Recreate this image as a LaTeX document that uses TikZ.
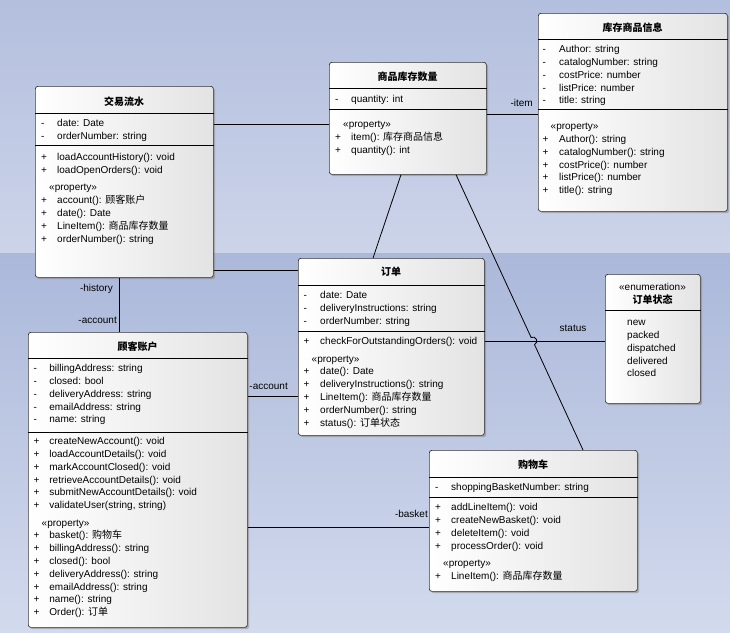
\documentclass[tikz,border=0pt]{standalone}
\usepackage{fontspec}
\setmainfont{Liberation Sans}
\newfontfamily\cjk{Noto Sans CJK SC}
\usetikzlibrary{shadows,calc}
\definecolor{bgtopA}{HTML}{B3BFDE}
\definecolor{bgtopB}{HTML}{CCD4E9}
\definecolor{bgbotA}{HTML}{ABB8DA}
\definecolor{bgbotB}{HTML}{D2DAED}
\newcommand\prop{\multicolumn{2}{@{\hspace{8pt}}l@{}}{«property»}}
\newcommand\compsep[2]{\draw[sepline] ($(#1.north west)+(0,#2)$) -- ($(#1.north east)+(0,#2)$);}
\tikzset{
  classbox/.style={draw=black!80, line width=0.7pt, rounded corners=2.5pt,
    left color=white, right color=black!11,
    drop shadow={shadow xshift=1.8pt, shadow yshift=-1.8pt, fill=black!50},
    inner sep=0pt, anchor=north west},
  sepline/.style={draw=black, line width=0.8pt},
  ttl/.style={font=\fontsize{10}{12}\selectfont\bfseries, anchor=base, inner sep=0pt},
  lst/.style={font=\fontsize{10}{12.8}\selectfont, anchor=north west, inner sep=0pt},
  lbl/.style={font=\fontsize{10}{12}\selectfont, inner sep=0pt},
  conn/.style={draw=black, line width=0.8pt},
}
\begin{document}
\begin{tikzpicture}[x=1pt,y=-1pt]
\useasboundingbox (0,0) rectangle (730,632);
\shade[top color=bgtopA, bottom color=bgtopB] (0,0) rectangle (730,253);
\shade[top color=bgbotA, bottom color=bgbotB] (0,253) rectangle (730,632);

% ---------- connectors (under boxes) ----------
\node[classbox, minimum width=178, minimum height=191] (tx) at (35,86) {};
\node[classbox, minimum width=157, minimum height=112] (li) at (329,62) {};
\node[classbox, minimum width=189, minimum height=198] (si) at (538,13) {};
\node[classbox, minimum width=186, minimum height=177] (ord) at (298,258) {};
\node[classbox, minimum width=95, minimum height=129] (st) at (605,274) {};
\node[classbox, minimum width=219, minimum height=295] (acc) at (28,332) {};
\node[classbox, minimum width=208, minimum height=141] (bk) at (429,450) {};

\draw[conn] ($(tx.north east)+(0,38)$) -- ($(li.north west)+(0,62)$);
\draw[conn] ($(li.north east)+(0,52)$) -- ($(si.north west)+(0,101)$);
\draw[conn] ($(tx.north east)+(0,184)$) -- ($(ord.north west)+(0,12)$);
\draw[conn] ($(li.south west)+(72,0)$) -- ($(ord.north west)+(75,0)$);
\coordinate (h1) at (531.1,337.4);
\coordinate (h2) at (534.5,344.6);
\draw[conn] ($(li.south west)+(127,0)$) -- (h1) .. controls (535.9,335.2) and (539.3,342.4) .. (h2) -- ($(bk.north west)+(154,0)$);
\draw[conn] ($(ord.north east)+(0,83)$) -- ($(st.north west)+(0,67)$);
\draw[conn] ($(tx.south west)+(84,0)$) -- ($(acc.north west)+(91,0)$);
\draw[conn] ($(ord.north west)+(0,138)$) -- ($(acc.north east)+(0,64)$);
\draw[conn] ($(bk.north west)+(0,77)$) -- ($(acc.north east)+(0,195)$);

\node[lbl, anchor=east] (l-item) at (533,103) {-item};
\node[lbl] (l-status) at (573,328) {status};
\node[lbl, anchor=east] (l-history) at (113,289) {-history};
\node[lbl, anchor=east] (l-acc1) at (117,320) {-account};
\node[lbl, anchor=east] (l-acc2) at (288,386) {-account};
\node[lbl, anchor=east] (l-basket) at (428,514) {-basket};

% ---------- 交易流水 ----------
\compsep{tx}{27}\compsep{tx}{59}
\node[ttl] (tx-t) at (124,105) {\cjk 交易流水};
\node[lst] (tx-a) at (41,117.6) {\begin{tabular}{@{}p{16pt}@{}l@{}}
- & date: Date\\
- & orderNumber: string
\end{tabular}};
\node[lst] (tx-m) at (41,151.6) {\begin{tabular}{@{}p{16pt}@{}l@{}}
+ & loadAccountHistory(): void\\
+ & loadOpenOrders(): void\\[4.5pt]
\prop\\
+ & account(): {\cjk 顾客账户}\\
+ & date(): Date\\
+ & LineItem(): {\cjk 商品库存数量}\\
+ & orderNumber(): string
\end{tabular}};

% ---------- 商品库存数量 ----------
\compsep{li}{26}\compsep{li}{47}
\node[ttl] (li-t) at (407.5,80.5) {\cjk 商品库存数量};
\node[lst] (li-a) at (335,93.6) {\begin{tabular}{@{}p{16pt}@{}l@{}}
- & quantity: int
\end{tabular}};
\node[lst] (li-m) at (335,118.6) {\begin{tabular}{@{}p{16pt}@{}l@{}}
\prop\\
+ & item(): {\cjk 库存商品信息}\\
+ & quantity(): int
\end{tabular}};

% ---------- 库存商品信息 ----------
\compsep{si}{26}\compsep{si}{96}
\node[ttl] (si-t) at (632.5,31.5) {\cjk 库存商品信息};
\node[lst] (si-a) at (542.5,43.6) {\begin{tabular}{@{}p{16.5pt}@{}l@{}}
- & Author: string\\
- & catalogNumber: string\\
- & costPrice: number\\
- & listPrice: number\\
- & title: string
\end{tabular}};
\node[lst] (si-m) at (542.5,120.6) {\begin{tabular}{@{}p{16.5pt}@{}l@{}}
\prop\\
+ & Author(): string\\
+ & catalogNumber(): string\\
+ & costPrice(): number\\
+ & listPrice(): number\\
+ & title(): string
\end{tabular}};

% ---------- 订单 ----------
\compsep{ord}{27}\compsep{ord}{73}
\node[ttl] (ord-t) at (391,275.8) {\cjk 订单};
\node[lst] (ord-a) at (303.5,289.6) {\begin{tabular}{@{}p{16.5pt}@{}l@{}}
- & date: Date\\
- & deliveryInstructions: string\\
- & orderNumber: string
\end{tabular}};
\node[lst] (ord-m) at (303.5,335.6) {\begin{tabular}{@{}p{16.5pt}@{}l@{}}
+ & checkForOutstandingOrders(): void\\[4.5pt]
\prop\\
+ & date(): Date\\
+ & deliveryInstructions(): string\\
+ & LineItem(): {\cjk 商品库存数量}\\
+ & orderNumber(): string\\
+ & status(): {\cjk 订单状态}
\end{tabular}};

% ---------- 订单状态 ----------
\compsep{st}{36}
\node[lbl, anchor=base] (st-s) at (652.5,290.5) {«enumeration»};
\node[ttl] (st-t) at (652.5,303.8) {\cjk 订单状态};
\node[lst] (st-v) at (627,316.6) {\begin{tabular}{@{}l@{}}
new\\ packed\\ dispatched\\ delivered\\ closed
\end{tabular}};

% ---------- 顾客账户 ----------
\compsep{acc}{26}\compsep{acc}{100}
\node[ttl] (acc-t) at (137.5,350.8) {\cjk 顾客账户};
\node[lst] (acc-a) at (33.5,362.6) {\begin{tabular}{@{}p{15.7pt}@{}l@{}}
- & billingAddress: string\\
- & closed: bool\\
- & deliveryAddress: string\\
- & emailAddress: string\\
- & name: string
\end{tabular}};
\node[lst] (acc-m) at (33.5,435.6) {\begin{tabular}{@{}p{15.7pt}@{}l@{}}
+ & createNewAccount(): void\\
+ & loadAccountDetails(): void\\
+ & markAccountClosed(): void\\
+ & retrieveAccountDetails(): void\\
+ & submitNewAccountDetails(): void\\
+ & validateUser(string, string)\\[4.5pt]
\prop\\
+ & basket(): {\cjk 购物车}\\
+ & billingAddress(): string\\
+ & closed(): bool\\
+ & deliveryAddress(): string\\
+ & emailAddress(): string\\
+ & name(): string\\
+ & Order(): {\cjk 订单}
\end{tabular}};

% ---------- 购物车 ----------
\compsep{bk}{27}\compsep{bk}{47}
\node[ttl] (bk-t) at (533,468.8) {\cjk 购物车};
\node[lst] (bk-a) at (435,481.6) {\begin{tabular}{@{}p{16pt}@{}l@{}}
- & shoppingBasketNumber: string
\end{tabular}};
\node[lst] (bk-m) at (435,501.6) {\begin{tabular}{@{}p{16pt}@{}l@{}}
+ & addLineItem(): void\\
+ & createNewBasket(): void\\
+ & deleteItem(): void\\
+ & processOrder(): void\\[4.5pt]
\prop\\
+ & LineItem(): {\cjk 商品库存数量}
\end{tabular}};
\end{tikzpicture}
\end{document}
